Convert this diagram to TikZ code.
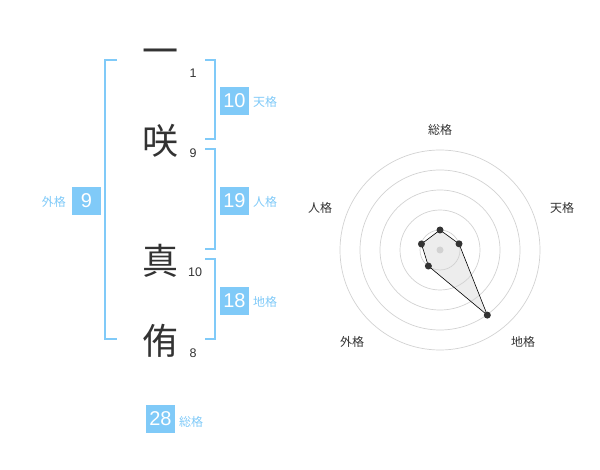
\documentclass[tikz,border=0pt]{standalone}
\usepackage{fontspec}
\setmainfont{Liberation Sans}
\newfontfamily\jp{Noto Sans CJK JP}
\definecolor{kakublue}{HTML}{80CAF8}
\definecolor{inkgray}{HTML}{333333}
\definecolor{ringgray}{HTML}{D2D2D2}

\begin{document}
\begin{tikzpicture}[x=1pt,y=-1pt,
  kanji/.style={font=\jp\fontsize{36}{36}\selectfont, text=inkgray, inner sep=0pt},
  strokes/.style={font=\fontsize{12.5}{12.5}\selectfont, text=inkgray, inner sep=0pt},
  kakubox/.style={fill=kakublue, text=white, minimum width=29pt, minimum height=28pt, inner sep=0pt, font=\fontsize{20}{20}\selectfont},
  kakulabel/.style={font=\jp\fontsize{12}{12}\selectfont, text=kakublue, inner sep=0pt},
  bracket/.style={draw=kakublue, line width=2pt},
  axislabel/.style={font=\jp\fontsize{12}{12}\selectfont, text=inkgray, inner sep=0pt},
  ring/.style={draw=ringgray, line width=0.7pt},
  dot/.style={circle, fill=inkgray, inner sep=0pt, minimum size=7pt}]

\useasboundingbox (0,0) rectangle (600,470);

% Name characters and stroke counts
\node[kanji] (c1) at (160,57) {一};
\node[strokes] (n1) at (193,73) {1};
\node[kanji] (c2) at (160,141) {咲};
\node[strokes] (n2) at (193,153) {9};
\node[kanji] (c3) at (160,261) {真};
\node[strokes] (n3) at (195,272) {10};
\node[kanji] (c4) at (160,341) {侑};
\node[strokes] (n4) at (193,353) {8};

% Brackets
\draw[bracket] (117,60) -| (105,339) -- (117,339);
\draw[bracket] (205,60) -| (215,139) -- (205,139);
\draw[bracket] (205,149) -| (215,249) -- (205,249);
\draw[bracket] (205,259) -| (215,339) -- (205,339);

% Scores
\node[kakubox] (ten) at (234.5,101) {10};
\node[kakulabel, anchor=west] (tenl) at (253,102) {天格};
\node[kakubox] (jin) at (234.5,201) {19};
\node[kakulabel, anchor=west] (jinl) at (253,202) {人格};
\node[kakubox] (chi) at (234.5,301) {18};
\node[kakulabel, anchor=west] (chil) at (253,302) {地格};
\node[kakubox] (gai) at (86.5,201) {9};
\node[kakulabel, anchor=east] (gail) at (66,202) {外格};
\node[kakubox] (sou) at (160.5,419) {28};
\node[kakulabel, anchor=west] (soul) at (179,422) {総格};

% Radar chart
\coordinate (c) at (440,250);

\begin{scope}[shift={(440,250)}]
\coordinate (psou) at (-90:20);
\coordinate (pten) at (-18:20);
\coordinate (pchi) at (54:80.5);
\coordinate (pgai) at (126:19.8);
\coordinate (pjin) at (198:19.5);
\end{scope}

\fill[black!7] (psou) -- (pten) -- (pchi) -- (pgai) -- (pjin) -- cycle;
\foreach \r in {20,40,60,80,100}
  \draw[ring] (c) circle[radius=\r pt];
\fill[ringgray] (c) circle[radius=3.5pt];
\draw[black, line width=0.6pt] (psou) -- (pten) -- (pchi) -- (pgai) -- (pjin) -- cycle;
\foreach \p in {psou,pten,pchi,pgai,pjin}
  \node[dot] (d\p) at (\p) {};

\node[axislabel] (asou) at (440,130) {総格};
\node[axislabel] (aten) at (562,208) {天格};
\node[axislabel] (achi) at (523,342) {地格};
\node[axislabel] (agai) at (352,342) {外格};
\node[axislabel] (ajin) at (320,208) {人格};

\end{tikzpicture}
\end{document}
